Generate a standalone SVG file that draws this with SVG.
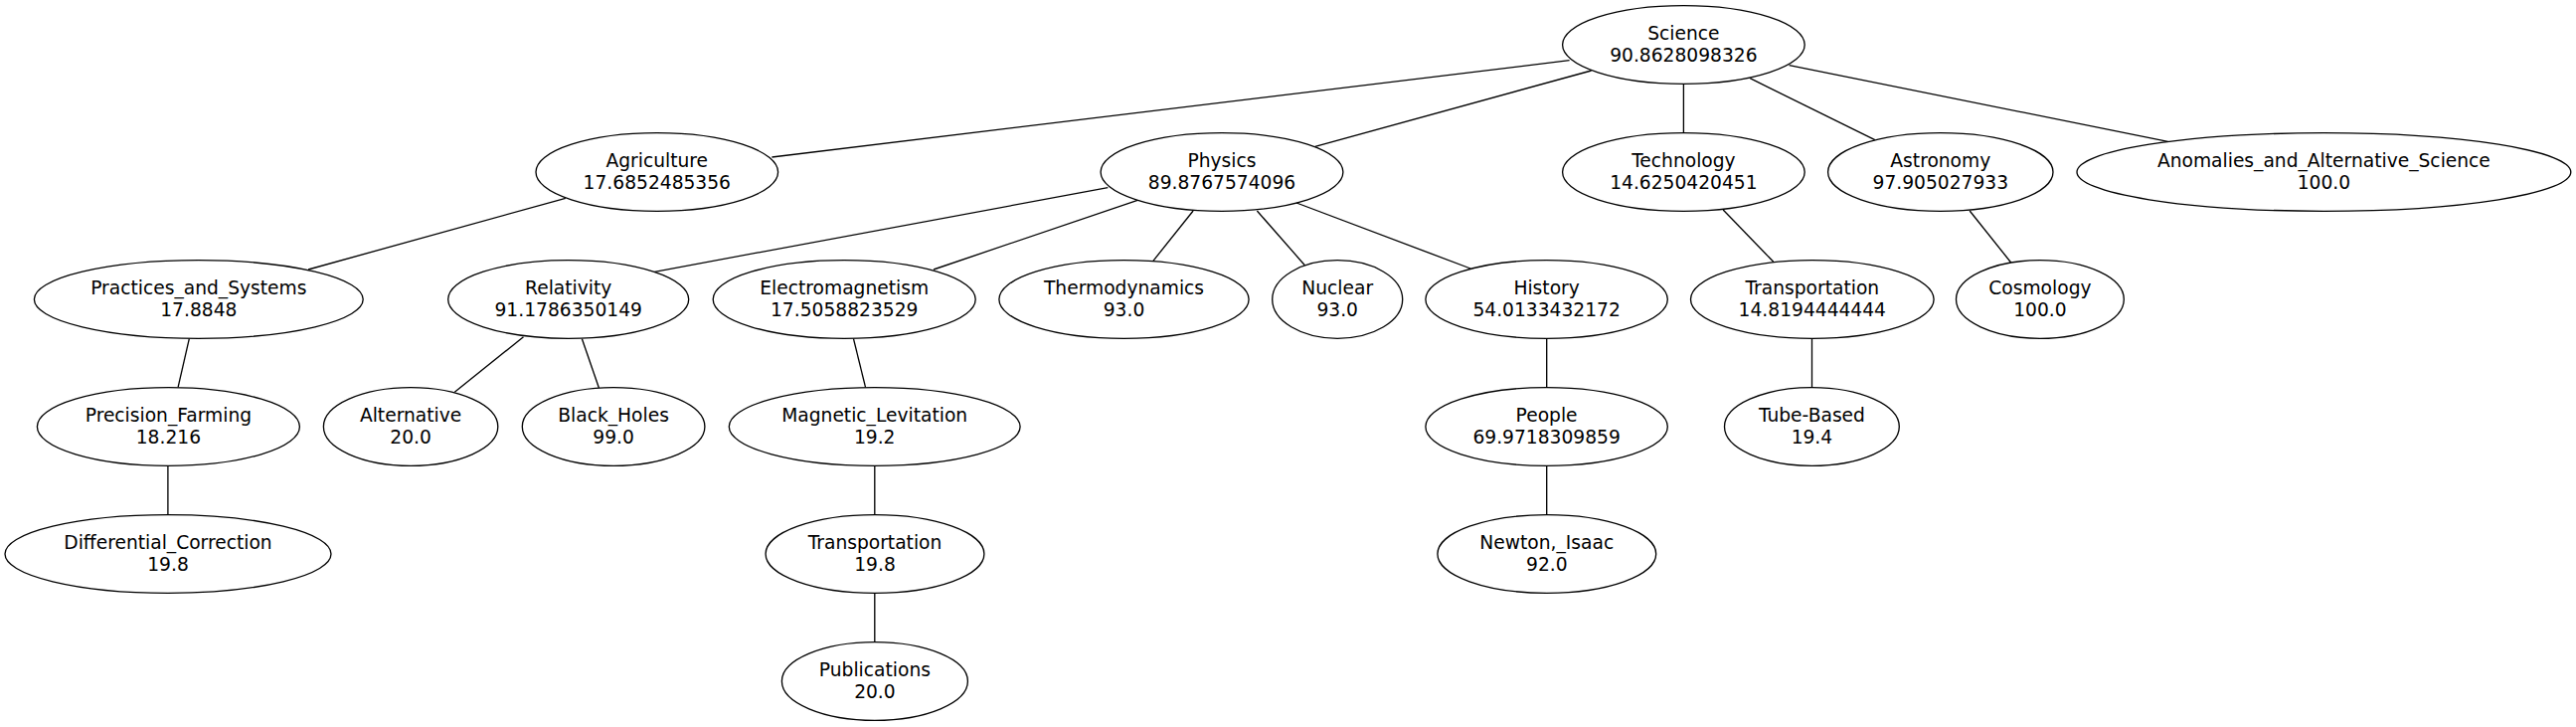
<svg xmlns="http://www.w3.org/2000/svg" width="2591" height="731" viewBox="0 0 2591 731">
<style>
.n ellipse{fill:none;stroke:#000;stroke-width:1.33}
.n text{font-family:"DejaVu Sans","Liberation Sans",sans-serif;font-size:18.67px;text-anchor:middle;fill:#000}
#edges line{stroke:#000;stroke-width:1.33}
</style>
<rect width="2591" height="731" fill="#fff"/>
<g id="edges">
<line x1="1578.6" y1="60.7" x2="776.4" y2="158"/>
<line x1="1600.6" y1="71" x2="1322.8" y2="147.3"/>
<line x1="1693.4" y1="84.3" x2="1693.4" y2="133.7"/>
<line x1="1760.2" y1="78.7" x2="1885.8" y2="140.7"/>
<line x1="1799.6" y1="65.7" x2="2180.6" y2="142.3"/>
<line x1="568.8" y1="199.3" x2="310.1" y2="271"/>
<line x1="1114.3" y1="188.7" x2="658.3" y2="273.3"/>
<line x1="1144.2" y1="201.3" x2="939" y2="271"/>
<line x1="1200.1" y1="212" x2="1159.9" y2="262.3"/>
<line x1="1264.4" y1="212" x2="1312.4" y2="266.7"/>
<line x1="1304.1" y1="204" x2="1479.1" y2="270"/>
<line x1="1733.2" y1="211" x2="1783.8" y2="263.3"/>
<line x1="1981.2" y1="212" x2="2022.7" y2="264"/>
<line x1="190.3" y1="340.7" x2="179.1" y2="389.3"/>
<line x1="526.5" y1="338.7" x2="457.3" y2="394.3"/>
<line x1="585.4" y1="340.7" x2="602.4" y2="390"/>
<line x1="858.5" y1="340.7" x2="870.5" y2="389.3"/>
<line x1="1555.7" y1="340.7" x2="1555.7" y2="389.3"/>
<line x1="1822.5" y1="340.7" x2="1822.5" y2="389.3"/>
<line x1="168.9" y1="468.7" x2="168.9" y2="517.3"/>
<line x1="879.8" y1="468.7" x2="879.8" y2="517.3"/>
<line x1="879.8" y1="596.7" x2="879.8" y2="645.7"/>
<line x1="1555.7" y1="468.7" x2="1555.7" y2="517.3"/>
</g>
<g id="science" class="n"><ellipse cx="1693.4" cy="45" rx="121.8" ry="39.3"/><text x="1693.4" y="39.5">Science</text><text x="1693.4" y="62.3">90.8628098326</text></g>
<g id="agriculture" class="n"><ellipse cx="660.8" cy="173" rx="121.8" ry="39.3"/><text x="660.8" y="167.5">Agriculture</text><text x="660.8" y="190.3">17.6852485356</text></g>
<g id="physics" class="n"><ellipse cx="1229" cy="173" rx="121.9" ry="39.3"/><text x="1229" y="167.5">Physics</text><text x="1229" y="190.3">89.8767574096</text></g>
<g id="technology" class="n"><ellipse cx="1693.4" cy="173" rx="121.8" ry="39.3"/><text x="1693.4" y="167.5">Technology</text><text x="1693.4" y="190.3">14.6250420451</text></g>
<g id="astronomy" class="n"><ellipse cx="1951.8" cy="173" rx="113.2" ry="39.3"/><text x="1951.8" y="167.5">Astronomy</text><text x="1951.8" y="190.3">97.905027933</text></g>
<g id="anomalies" class="n"><ellipse cx="2337.4" cy="173" rx="248.4" ry="39.3"/><text x="2337.4" y="167.5">Anomalies_and_Alternative_Science</text><text x="2337.4" y="190.3">100.0</text></g>
<g id="practices" class="n"><ellipse cx="199.8" cy="301" rx="165.4" ry="39.3"/><text x="199.8" y="295.5">Practices_and_Systems</text><text x="199.8" y="318.3">17.8848</text></g>
<g id="relativity" class="n"><ellipse cx="571.7" cy="301" rx="121" ry="39.3"/><text x="571.7" y="295.5">Relativity</text><text x="571.7" y="318.3">91.1786350149</text></g>
<g id="electromagnetism" class="n"><ellipse cx="849.2" cy="301" rx="132" ry="39.3"/><text x="849.2" y="295.5">Electromagnetism</text><text x="849.2" y="318.3">17.5058823529</text></g>
<g id="thermodynamics" class="n"><ellipse cx="1130.5" cy="301" rx="125.6" ry="39.3"/><text x="1130.5" y="295.5">Thermodynamics</text><text x="1130.5" y="318.3">93.0</text></g>
<g id="nuclear" class="n"><ellipse cx="1345.2" cy="301" rx="65.5" ry="39.3"/><text x="1345.2" y="295.5">Nuclear</text><text x="1345.2" y="318.3">93.0</text></g>
<g id="history" class="n"><ellipse cx="1555.6" cy="301" rx="121.7" ry="39.3"/><text x="1555.6" y="295.5">History</text><text x="1555.6" y="318.3">54.0133432172</text></g>
<g id="transportation_tech" class="n"><ellipse cx="1822.8" cy="301" rx="122.3" ry="39.3"/><text x="1822.8" y="295.5">Transportation</text><text x="1822.8" y="318.3">14.8194444444</text></g>
<g id="cosmology" class="n"><ellipse cx="2051.9" cy="301" rx="84.4" ry="39.3"/><text x="2051.9" y="295.5">Cosmology</text><text x="2051.9" y="318.3">100.0</text></g>
<g id="precision_farming" class="n"><ellipse cx="169.4" cy="429" rx="132" ry="39.3"/><text x="169.4" y="423.5">Precision_Farming</text><text x="169.4" y="446.3">18.216</text></g>
<g id="alternative" class="n"><ellipse cx="413.1" cy="429" rx="87.7" ry="39.3"/><text x="413.1" y="423.5">Alternative</text><text x="413.1" y="446.3">20.0</text></g>
<g id="black_holes" class="n"><ellipse cx="617.1" cy="429" rx="91.8" ry="39.3"/><text x="617.1" y="423.5">Black_Holes</text><text x="617.1" y="446.3">99.0</text></g>
<g id="magnetic_levitation" class="n"><ellipse cx="879.7" cy="429" rx="146.4" ry="39.3"/><text x="879.7" y="423.5">Magnetic_Levitation</text><text x="879.7" y="446.3">19.2</text></g>
<g id="people" class="n"><ellipse cx="1555.6" cy="429" rx="121.7" ry="39.3"/><text x="1555.6" y="423.5">People</text><text x="1555.6" y="446.3">69.9718309859</text></g>
<g id="tube_based" class="n"><ellipse cx="1822.4" cy="429" rx="87.9" ry="39.3"/><text x="1822.4" y="423.5">Tube-Based</text><text x="1822.4" y="446.3">19.4</text></g>
<g id="differential_correction" class="n"><ellipse cx="169" cy="557" rx="164" ry="39.3"/><text x="169" y="551.5">Differential_Correction</text><text x="169" y="574.3">19.8</text></g>
<g id="transportation_em" class="n"><ellipse cx="880" cy="557" rx="109.9" ry="39.3"/><text x="880" y="551.5">Transportation</text><text x="880" y="574.3">19.8</text></g>
<g id="newton" class="n"><ellipse cx="1555.8" cy="557" rx="109.9" ry="39.3"/><text x="1555.8" y="551.5">Newton,_Isaac</text><text x="1555.8" y="574.3">92.0</text></g>
<g id="publications" class="n"><ellipse cx="879.9" cy="685" rx="93.5" ry="39.3"/><text x="879.9" y="679.5">Publications</text><text x="879.9" y="702.3">20.0</text></g>
</svg>
